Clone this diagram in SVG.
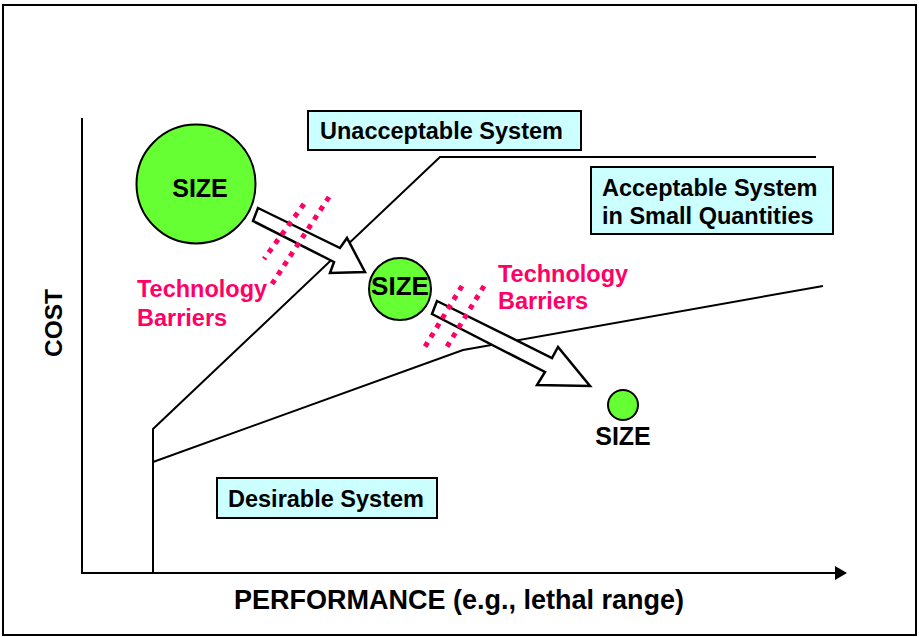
<svg xmlns="http://www.w3.org/2000/svg" width="919" height="637" viewBox="0 0 919 637">
<style>
text{font-family:"Liberation Sans",Arial,sans-serif;font-weight:bold;}
.lbl{font-size:23.5px;fill:#000;}
.box{fill:#CCFFFF;stroke:#000;stroke-width:2;}
.curve{fill:none;stroke:#000;stroke-width:2;}
.ball{fill:#66FF33;stroke:#000;stroke-width:2;}
.size{font-size:25px;fill:#000;text-anchor:middle;}
.barrier{fill:none;stroke:#FF0066;stroke-width:5;stroke-dasharray:5 6;}
.tech{font-size:23.5px;fill:#FF0066;}
.harrow{fill:#fff;stroke:#000;stroke-width:2.5;stroke-linejoin:miter;}
</style>
<defs>
<marker id="ah" markerWidth="12" markerHeight="14" refX="0" refY="7" orient="auto" markerUnits="userSpaceOnUse">
<path d="M0,0 L12,7 L0,14 Z" fill="#000"/>
</marker>
</defs>
<rect x="0" y="0" width="919" height="637" fill="#fff"/>
<rect id="frame" x="3" y="5" width="913" height="630" fill="none" stroke="#000" stroke-width="2"/>
<g id="axes">
<line x1="82" y1="118" x2="82" y2="574" stroke="#000" stroke-width="2"/>
<line x1="81" y1="573" x2="835" y2="573" stroke="#000" stroke-width="2" marker-end="url(#ah)"/>
<text class="lbl" x="234" y="609" style="font-size:27px">PERFORMANCE (e.g., lethal range)</text>
<text class="lbl" transform="translate(62,323) rotate(-90)" text-anchor="middle" style="font-size:24.5px">COST</text>
</g>
<g id="connectors">
<polyline class="curve" points="153,573 153,429 440,157 816,157"/>
<polyline class="curve" points="153,462 463,350 823,286"/>
</g>
<g id="unacceptable">
<rect class="box" x="308" y="111" width="273" height="39"/>
<text class="lbl" x="320" y="139">Unacceptable System</text>
</g>
<g id="acceptable">
<rect class="box" x="591" y="167" width="242" height="67"/>
<text class="lbl" x="602" y="196">Acceptable System</text>
<text class="lbl" x="602" y="224">in Small Quantities</text>
</g>
<g id="desirable">
<rect class="box" x="217" y="478" width="220" height="40"/>
<text class="lbl" x="228" y="507">Desirable System</text>
</g>
<g id="size-large">
<circle class="ball" cx="196" cy="184" r="59.5"/>
<text class="size" x="200" y="197">SIZE</text>
</g>
<g id="size-medium">
<circle class="ball" cx="400" cy="289" r="31"/>
<text class="size" x="400" y="295" style="font-size:26px">SIZE</text>
</g>
<g id="size-small">
<circle class="ball" cx="623" cy="405" r="15"/>
<text class="size" x="623" y="445">SIZE</text>
</g>
<g id="arrow1">
<polygon class="harrow" points="258,208 340,248 347,238 365,272 330,273 334,262 253,221"/>
</g>
<g id="arrow2">
<polygon class="harrow" points="437,301 552,358 558,347 590,386 537,385 545,372 432,314"/>
</g>
<g id="barrier1">
<line class="barrier" x1="329" y1="197" x2="270" y2="287"/>
<line class="barrier" x1="304" y1="204" x2="264" y2="259"/>
<text class="tech" x="137" y="297">Technology</text>
<text class="tech" x="137" y="326">Barriers</text>
</g>
<g id="barrier2">
<line class="barrier" x1="484" y1="286" x2="445" y2="350"/>
<line class="barrier" x1="462" y1="286" x2="423" y2="350"/>
<text class="tech" x="498" y="282">Technology</text>
<text class="tech" x="498" y="309">Barriers</text>
</g>
</svg>
